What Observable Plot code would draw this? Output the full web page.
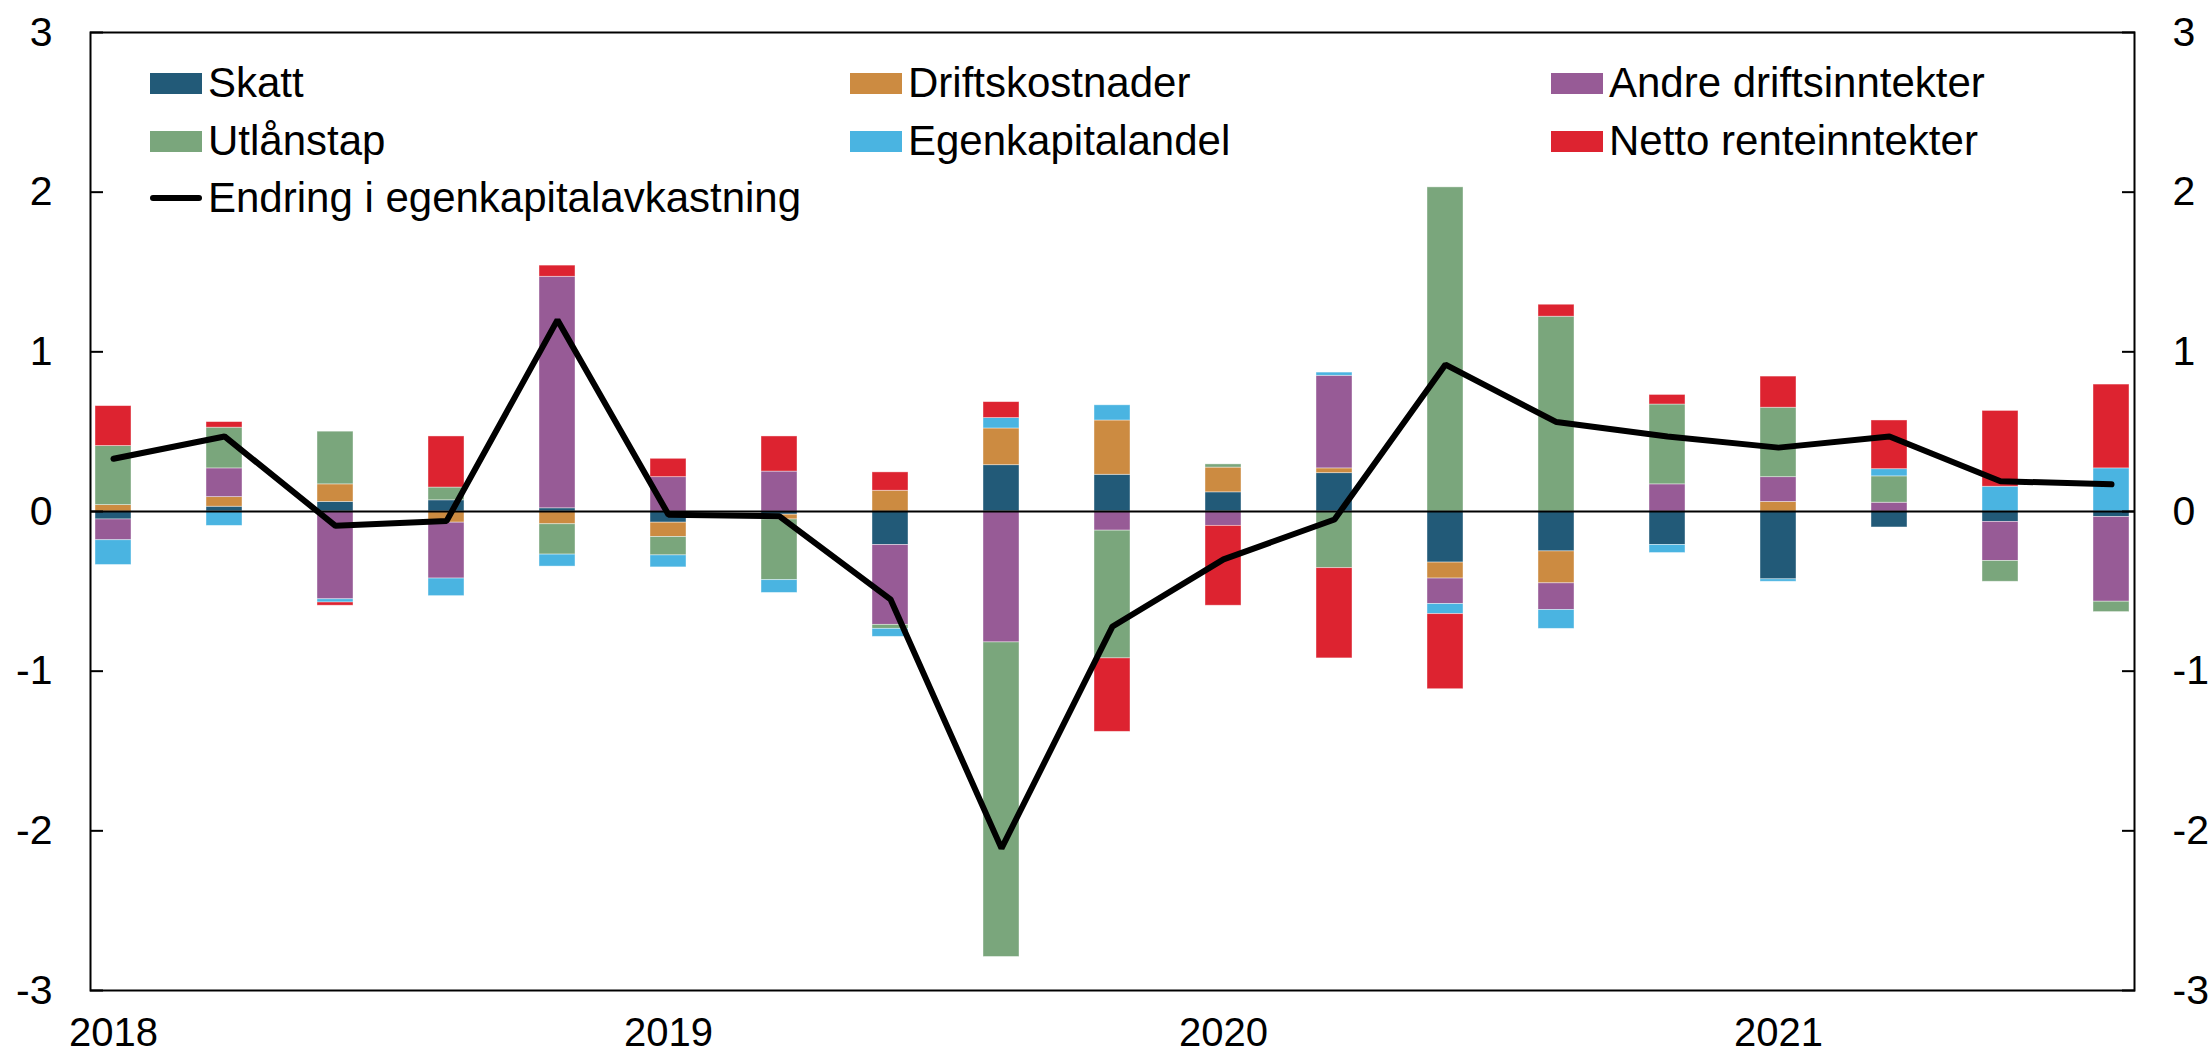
<!DOCTYPE html>
<html>
<head>
<meta charset="utf-8">
<script src="https://cdn.jsdelivr.net/npm/d3@7"></script>
<script src="https://cdn.jsdelivr.net/npm/@observablehq/plot@0.6"></script>
<style>
  body { margin: 0; background: #fff; }
  #wrap { position: relative; width: 2212px; height: 1060px; font-family: "Liberation Sans", Arial, sans-serif; }
  .lg { position: absolute; height: 50px; display: flex; align-items: center; font-size: 42px; line-height: 1; white-space: nowrap; color: #000; }
  .sw { width: 52px; height: 21px; margin-right: 6px; flex: none; }
  .ln { width: 52px; height: 6px; background: #000; border-radius: 3px; margin-right: 6px; flex: none; }
</style>
</head>
<body>
<div id="wrap"></div>
<script>
// Quarterly contributions to change in return on equity (percentage points)
const periods = d3.range(19);              // 19 consecutive quarters
const tickIndex = [0, 5, 10, 15];
const tickLabels = ["2018", "2019", "2020", "2021"];

const seriesNames = ["Skatt", "Driftskostnader", "Andre driftsinntekter", "Utlånstap", "Egenkapitalandel", "Netto renteinntekter"];
const seriesColors = ["#225A78", "#CC8B41", "#975B96", "#7AA67C", "#4AB4E1", "#DD2330"];

const skatt           = [-0.05, 0.03, 0.06, 0.07, 0.02, -0.07, -0.02, -0.21, 0.29, 0.23, 0.12, 0.24, -0.32, -0.25, -0.21, -0.425, -0.10, -0.065, -0.035];
const driftskostnader = [0.04, 0.06, 0.11, -0.07, -0.08, -0.09, -0.03, 0.13, 0.23, 0.34, 0.155, 0.03, -0.10, -0.20, 0, 0.06, 0, 0, 0];
const andreInntekter  = [-0.13, 0.18, -0.55, -0.35, 1.45, 0.215, 0.25, -0.50, -0.82, -0.12, -0.09, 0.58, -0.16, -0.167, 0.17, 0.155, 0.055, -0.245, -0.53];
const utlanstap       = [0.37, 0.255, 0.33, 0.08, -0.19, -0.115, -0.38, -0.025, -1.97, -0.80, 0.02, -0.355, 2.03, 1.22, 0.50, 0.435, 0.165, -0.13, -0.065];
const egenkapital     = [-0.155, -0.09, -0.02, -0.11, -0.075, -0.075, -0.08, -0.05, 0.065, 0.095, 0, 0.02, -0.063, -0.118, -0.05, -0.015, 0.045, 0.155, 0.27];
const nettoRente      = [0.25, 0.035, -0.02, 0.32, 0.07, 0.115, 0.22, 0.115, 0.10, -0.46, -0.50, -0.565, -0.47, 0.075, 0.06, 0.195, 0.305, 0.475, 0.525];

const lineName = "Endring i egenkapitalavkastning";
const endring  = [0.33, 0.47, -0.09, -0.06, 1.20, -0.02, -0.03, -0.55, -2.11, -0.72, -0.30, -0.05, 0.92, 0.56, 0.47, 0.40, 0.47, 0.19, 0.17];

const yTicks = [-3, -2, -1, 0, 1, 2, 3];

// Build tidy table
const seriesValues = [skatt, driftskostnader, andreInntekter, utlanstap, egenkapital, nettoRente];
const bars = [];
seriesNames.forEach((name, s) => {
  periods.forEach((p, i) => bars.push({i: p, series: name, value: seriesValues[s][i]}));
});
const lineData = periods.map((p, i) => ({i: p, v: endring[i]}));

const font = '"Liberation Sans", Arial, sans-serif';

const chart = Plot.plot({
  width: 2212,
  height: 1060,
  marginLeft: 90,
  marginRight: 78,
  marginTop: 32,
  marginBottom: 70,
  style: {fontFamily: font, fontSize: "41px", color: "#000", background: "#fff"},
  x: {type: "band", domain: periods, paddingInner: 0.68, paddingOuter: 0, align: 0.5, axis: null},
  y: {domain: [-3, 3], axis: null},
  color: {domain: seriesNames, range: seriesColors},
  marks: [
    Plot.barY(bars, {x: "i", y: "value", fill: "series", stroke: "#fff", strokeWidth: 0.8, strokeOpacity: 0.5}),
    Plot.ruleY([0], {stroke: "#000", strokeWidth: 2}),
    Plot.line(lineData, {x: "i", y: "v", stroke: "#000", strokeWidth: 6, strokeLinejoin: "miter"}),
    Plot.frame({stroke: "#000", strokeWidth: 2}),
    // inward tick marks
    Plot.axisY({anchor: "left", ticks: yTicks, tickSize: 13, dx: 13, tickFormat: () => "", label: null, strokeWidth: 2}),
    Plot.axisY({anchor: "right", ticks: yTicks, tickSize: 13, dx: -13, tickFormat: () => "", label: null, strokeWidth: 2}),
    // tick labels
    Plot.axisY({anchor: "left", ticks: yTicks, tickSize: 0, tickPadding: 38, tickFormat: d => String(d), label: null, fontSize: 41}),
    Plot.axisY({anchor: "right", ticks: yTicks, tickSize: 0, tickPadding: 38, tickFormat: d => String(d), label: null, fontSize: 41}),
    Plot.axisX({ticks: tickIndex, tickSize: 0, tickPadding: 27, tickFormat: i => tickLabels[tickIndex.indexOf(i)], label: null, fontSize: 40})
  ]
});

const wrap = document.getElementById("wrap");
wrap.appendChild(chart);

// Legend inside the plot area (3 columns x 3 rows)
const colX = [150, 850, 1551];
const rowY = [83, 141, 198];
const items = seriesNames.map((n, k) => ({name: n, color: seriesColors[k], col: k % 3, row: Math.floor(k / 3)}));
items.push({name: lineName, line: true, col: 0, row: 2});
for (const it of items) {
  const d = document.createElement("div");
  d.className = "lg";
  d.style.left = colX[it.col] + "px";
  d.style.top = (rowY[it.row] - 25) + "px";
  const sw = document.createElement("span");
  sw.className = it.line ? "ln" : "sw";
  if (!it.line) sw.style.background = it.color;
  d.appendChild(sw);
  d.appendChild(document.createTextNode(it.name));
  wrap.appendChild(d);
}
</script>
</body>
</html>
